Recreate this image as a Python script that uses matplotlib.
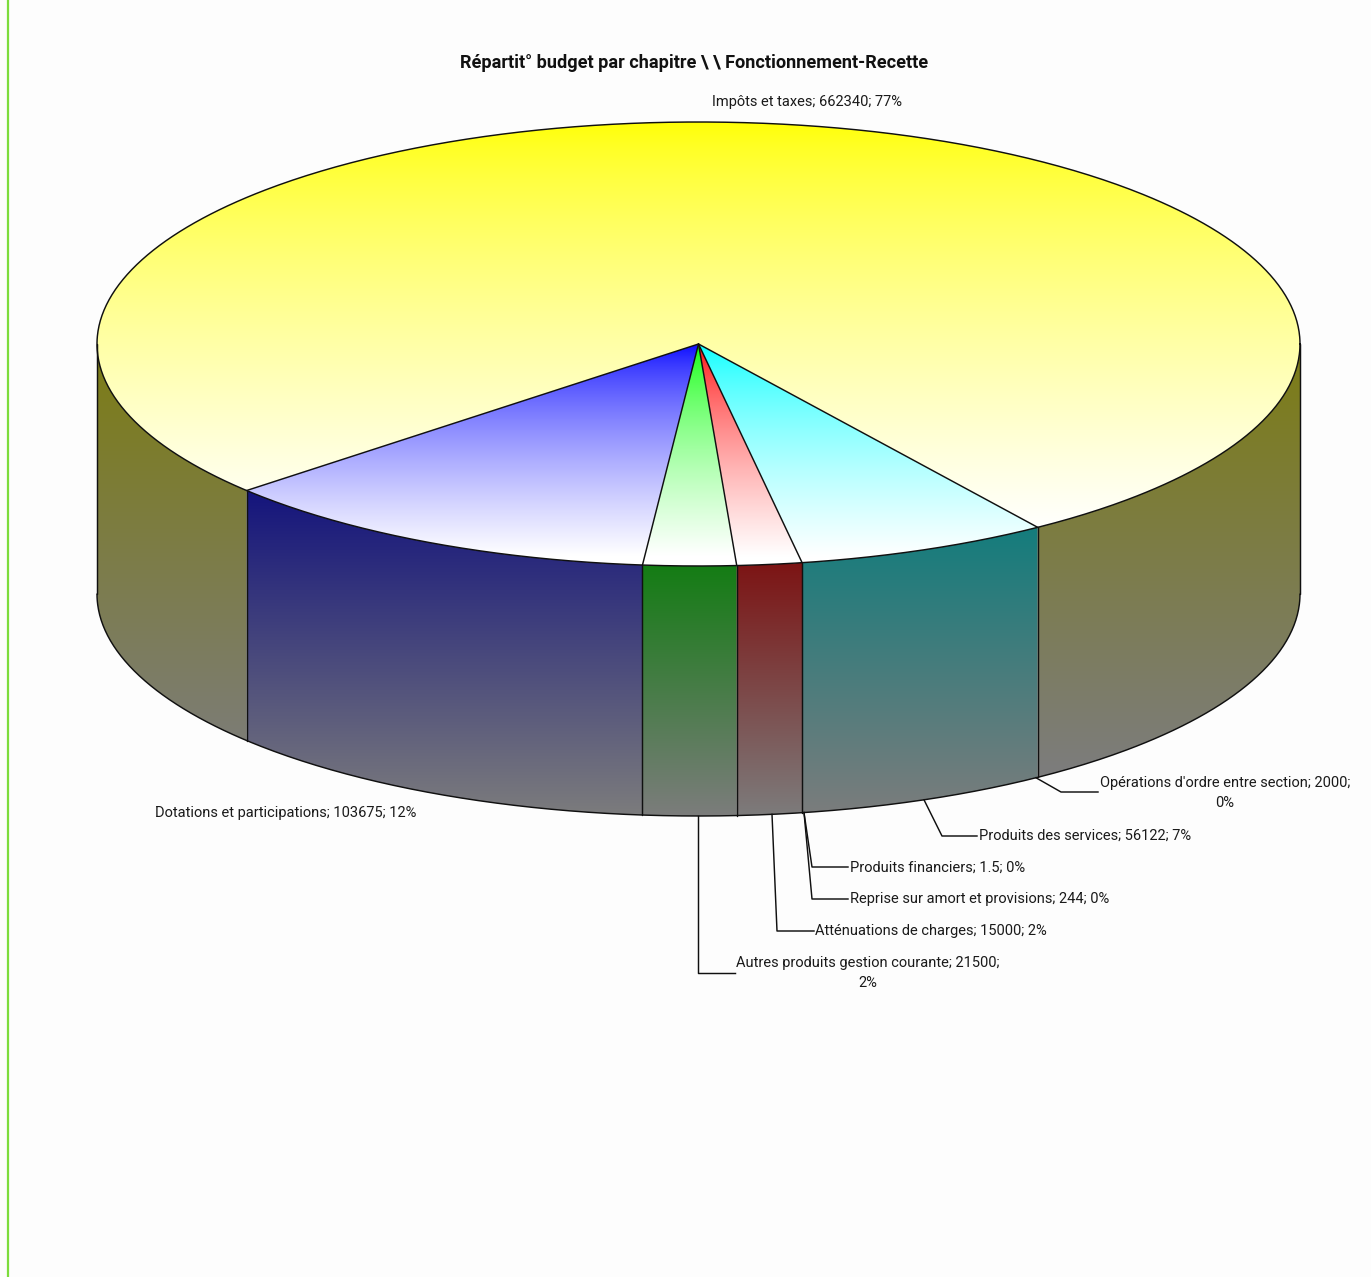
import numpy as np
import matplotlib
matplotlib.use("Agg")
import matplotlib.pyplot as plt
from matplotlib.path import Path
from matplotlib.patches import PathPatch

plt.rcParams['font.family'] = ['Roboto', 'Liberation Sans', 'DejaVu Sans']

# budget chapters, in drawing order going clockwise round the pie
categories = ["Dotations et participations", "Autres produits gestion courante",
              "Atténuations de charges", "Reprise sur amort et provisions",
              "Produits financiers", "Produits des services",
              "Opérations d'ordre entre section", "Impôts et taxes"]
values = [103675, 21500, 15000, 244, 1.5, 56122, 2000, 662340]
colors = [(0, 0, 255), (0, 255, 0), (255, 0, 0), (0, 255, 255),
          (0, 255, 255), (0, 255, 255), (0, 255, 255), (255, 255, 0)]

title = "Répartit° budget par chapitre \\ \\ Fonctionnement-Recette"

# pie geometry in pixels
W, H = 1371, 1277
CX, CY = 698.5, 344
A, B = 601.5, 222
DEPTH = 250
START = 138.7
BG = "#fdfdfd"
LW = 1.05


def rim(t, dy=0):
    t = np.radians(t)
    return CX + A * np.cos(t), CY + B * np.sin(t) + dy


def arc(t0, t1, dy=0, n=200):
    x, y = rim(np.linspace(t0, t1, n), dy)
    return np.column_stack([x, y])


def gradient(path, c0, c1, y0, y1, gamma=1.0):
    # vertical colour ramp clipped to the path, end colours held past y0/y1
    c0 = np.array(c0, float) / 255
    c1 = np.array(c1, float) / 255
    x0, x1 = path[:, 0].min() - 2, path[:, 0].max() + 2
    top, bot = path[:, 1].min() - 2, path[:, 1].max() + 2
    rows = np.clip((np.linspace(top, bot, 512) - y0) / (y1 - y0), 0, 1) ** gamma
    img = c0 + (c1 - c0) * rows[:, None, None]
    im = ax.imshow(img, extent=(x0, x1, bot, top), aspect="auto", zorder=2,
                   interpolation="bilinear")
    patch = PathPatch(Path(path), transform=ax.transData, fc="none", ec="none")
    ax.add_patch(patch)
    im.set_clip_path(patch)


def side_colors(col):
    top = tuple(max(c * 0.49, 20) for c in col)
    return top, (124, 124, 124)


fig = plt.figure(figsize=(W / 100, H / 100), dpi=100, facecolor=BG)
ax = fig.add_axes([0, 0, 1, 1])
ax.set_facecolor(BG)

# slice boundaries from the values
total = sum(values)
sweep = np.array(values) / total * 360
ends = START - np.cumsum(sweep)
starts = ends + sweep

# neighbouring slices of one colour are filled together
groups = []
for i in range(len(values)):
    if groups and groups[-1][0] == colors[i]:
        groups[-1][2] = ends[i]
    else:
        groups.append([colors[i], starts[i], ends[i]])

for col, t1, t0 in groups:
    back = t0 < 0
    # sides, only the front half of the cylinder shows
    pieces = [(0, t1), (START, 180)] if back else [(t1, t0)]
    c_top, c_bot = side_colors(col)
    for a0, a1 in pieces:
        poly = np.vstack([arc(a0, a1), arc(a1, a0, DEPTH)])
        if back:
            gradient(poly, c_top, c_bot, CY, 770)
        else:
            gradient(poly, c_top, c_bot, poly[:, 1].min(), CY + B + DEPTH)

    # top face
    poly = np.vstack([[CX, CY], arc(t1, t0, n=600)])
    if back:
        gradient(poly, col, (255, 255, 255), CY - B, 530, gamma=0.7)
    else:
        gradient(poly, col, (255, 255, 255), CY, 556, gamma=0.65)

# outlines
line = dict(color="#101010", lw=LW, zorder=3, solid_capstyle="round")
top_outline = arc(0, 360, n=800)
ax.plot(top_outline[:, 0], top_outline[:, 1], **line)
bottom = arc(0, 180, DEPTH, n=400)
ax.plot(bottom[:, 0], bottom[:, 1], **line)
for t in (0, 180):
    x, y = rim(t)
    ax.plot([x, x], [y, y + DEPTH], **line)

# radial and vertical edges between the coloured groups
for _, t1, t0 in groups:
    x, y = rim(t1)
    ax.plot([CX, x], [CY, y], **line)
    ax.plot([x, x], [y, y + DEPTH], **line)

# data labels
FS = 10.5


def label_text(i, wrap=False):
    pct = round(values[i] / total * 100)
    sep = "\n" if wrap else " "
    return f"{categories[i]}; {values[i]:g};{sep}{pct}%"


# leader lines: rim x, elbow x, elbow y, end x
leaders = [(698, 698, 973, 735), (772, 777, 931, 814), (804, 812, 899, 848),
           (804, 812, 867, 848), (924, 942, 836, 977), (1036, 1061, 792, 1098)]
for rx, ex, ey, lx in leaders:
    ry = CY + DEPTH + B * np.sqrt(1 - ((rx - CX) / A) ** 2)
    ax.plot([rx, ex, lx], [ry, ey, ey], color="#101010", lw=LW, zorder=3)

txt = dict(fontsize=FS, color="#1a1a1a", zorder=4, va="center")
ax.text(712, 102, label_text(7), ha="left", **txt)
ax.text(155, 813, label_text(0), ha="left", **txt)
ax.text(1225, 793, label_text(6, True), ha="center", multialignment="center", linespacing=1.62, **txt)
ax.text(979, 836, label_text(5), ha="left", **txt)
ax.text(850, 868, label_text(4), ha="left", **txt)
ax.text(850, 899, label_text(3), ha="left", **txt)
ax.text(815, 931, label_text(2), ha="left", **txt)
ax.text(868, 973, label_text(1, True), ha="center", multialignment="center", linespacing=1.62, **txt)

ax.text(694, 63.5, title, ha="center", va="center", fontsize=13.05, fontweight="bold", color="#111111", zorder=4)

# green rule down the left edge
ax.plot([7.5, 7.5], [0, H], color="#7ddc3c", lw=1.6, zorder=5, solid_capstyle="butt")

ax.set_xlim(0, W)
ax.set_ylim(H, 0)
ax.axis("off")
fig.savefig("out.png", dpi=100, facecolor=BG)
